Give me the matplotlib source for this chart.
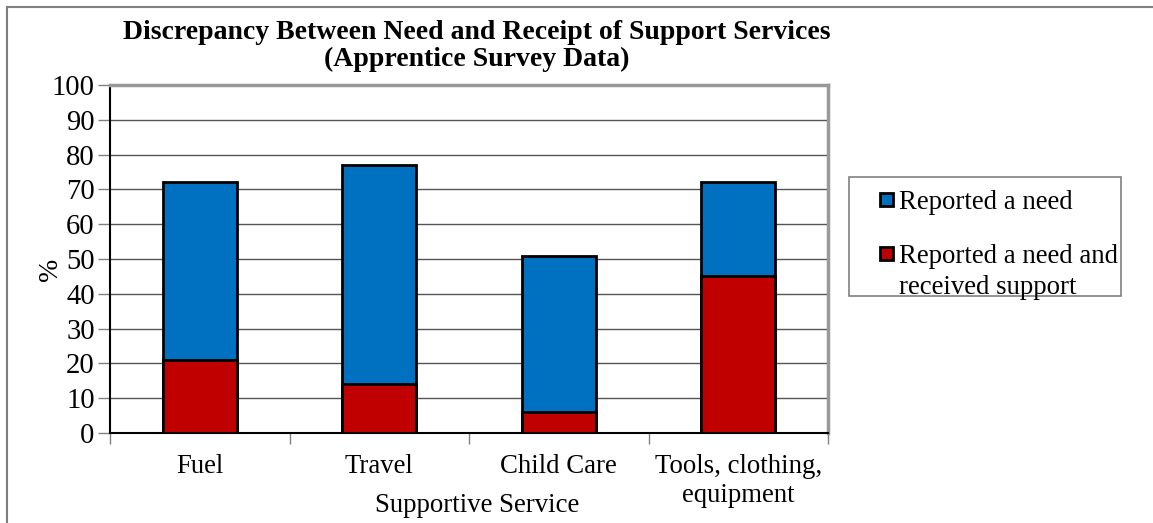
import matplotlib.pyplot as plt
import numpy as np
from matplotlib.lines import Line2D
from matplotlib.patches import Rectangle

categories = ["Fuel", "Travel", "Child Care", "Tools, clothing,\nequipment"]
need = [72, 77, 51, 72]
received = [21, 14, 6, 45]
series_labels = ['Reported a need', 'Reported a need and\nreceived support']
series_colors = ['#0070C0', '#C00000']
y_ticks = list(range(0, 101, 10))

plt.rcParams['font.family'] = ['Liberation Serif', 'DejaVu Serif']

W, H = 1153, 523
fig = plt.figure(figsize=(W / 100, H / 100), dpi=100)
ax = fig.add_axes([110 / W, 90 / H, 718 / W, 348 / H])

x = np.arange(len(categories))
ax.bar(x, need, width=0.41, color=series_colors[0], edgecolor='black', linewidth=2, zorder=3)
ax.bar(x, received, width=0.41, color=series_colors[1], edgecolor='black', linewidth=2, zorder=4)

ax.set_xlim(-0.5, len(categories) - 0.5)
ax.set_ylim(0, 100)
ax.set_yticks(y_ticks)
ax.tick_params(axis='y', labelsize=20.6, length=9, width=1, color='#808080', pad=2)
ax.set_xticks(np.arange(len(categories) + 1) - 0.5)
ax.set_xticklabels([])
ax.set_xticks(x, minor=True)
ax.set_xticklabels(categories, minor=True, fontsize=19.3, linespacing=1.2)
ax.tick_params(axis='x', which='major', length=8, width=1, color='#808080')
ax.tick_params(axis='x', which='minor', length=0, pad=15)

ax.yaxis.grid(True, color='#555555', linewidth=1, zorder=0)
ax.set_axisbelow(True)
for s in ['top', 'right']:
	ax.spines[s].set_color('#999999')
	ax.spines[s].set_linewidth(2.5)
for s in ['left', 'bottom']:
	ax.spines[s].set_color('black')
	ax.spines[s].set_linewidth(1.5)

fig.text(477 / W, 1 - 505 / H, 'Supportive Service', fontsize=19.3, ha='center', va='center')
fig.text(50 / W, 1 - 269 / H, '%', fontsize=20, rotation=90, ha='center', va='center')

fig.text(477 / W, 1 - 46 / H,
	'Discrepancy Between Need and Receipt of Support Services\n(Apprentice Survey Data)',
	fontsize=20, fontweight='bold', ha='center', va='center', linespacing=1.1)

# legend drawn by hand to match the boxed layout
fig.add_artist(Rectangle((849 / W, 1 - 296 / H), 272 / W, 119 / H, transform=fig.transFigure,
	facecolor='white', edgecolor='#808080', linewidth=1.2))
entry_y = [200, 254]
for lab, col, yy in zip(series_labels, series_colors, entry_y):
	fig.add_artist(Rectangle((880 / W, 1 - (yy + 6) / H), 13 / W, 13 / H, transform=fig.transFigure,
		facecolor=col, edgecolor='black', linewidth=2))
	fig.text(899 / W, 1 - (yy - 10) / H, lab, fontsize=19.3, ha='left', va='top', linespacing=1.3)

fig.add_artist(Line2D([7 / W, 7 / W], [0, 1 - 7 / H], color='#808080', linewidth=1.5))
fig.add_artist(Line2D([7 / W, 1], [1 - 7 / H, 1 - 7 / H], color='#808080', linewidth=1.5))

fig.savefig('out.png', dpi=100)
